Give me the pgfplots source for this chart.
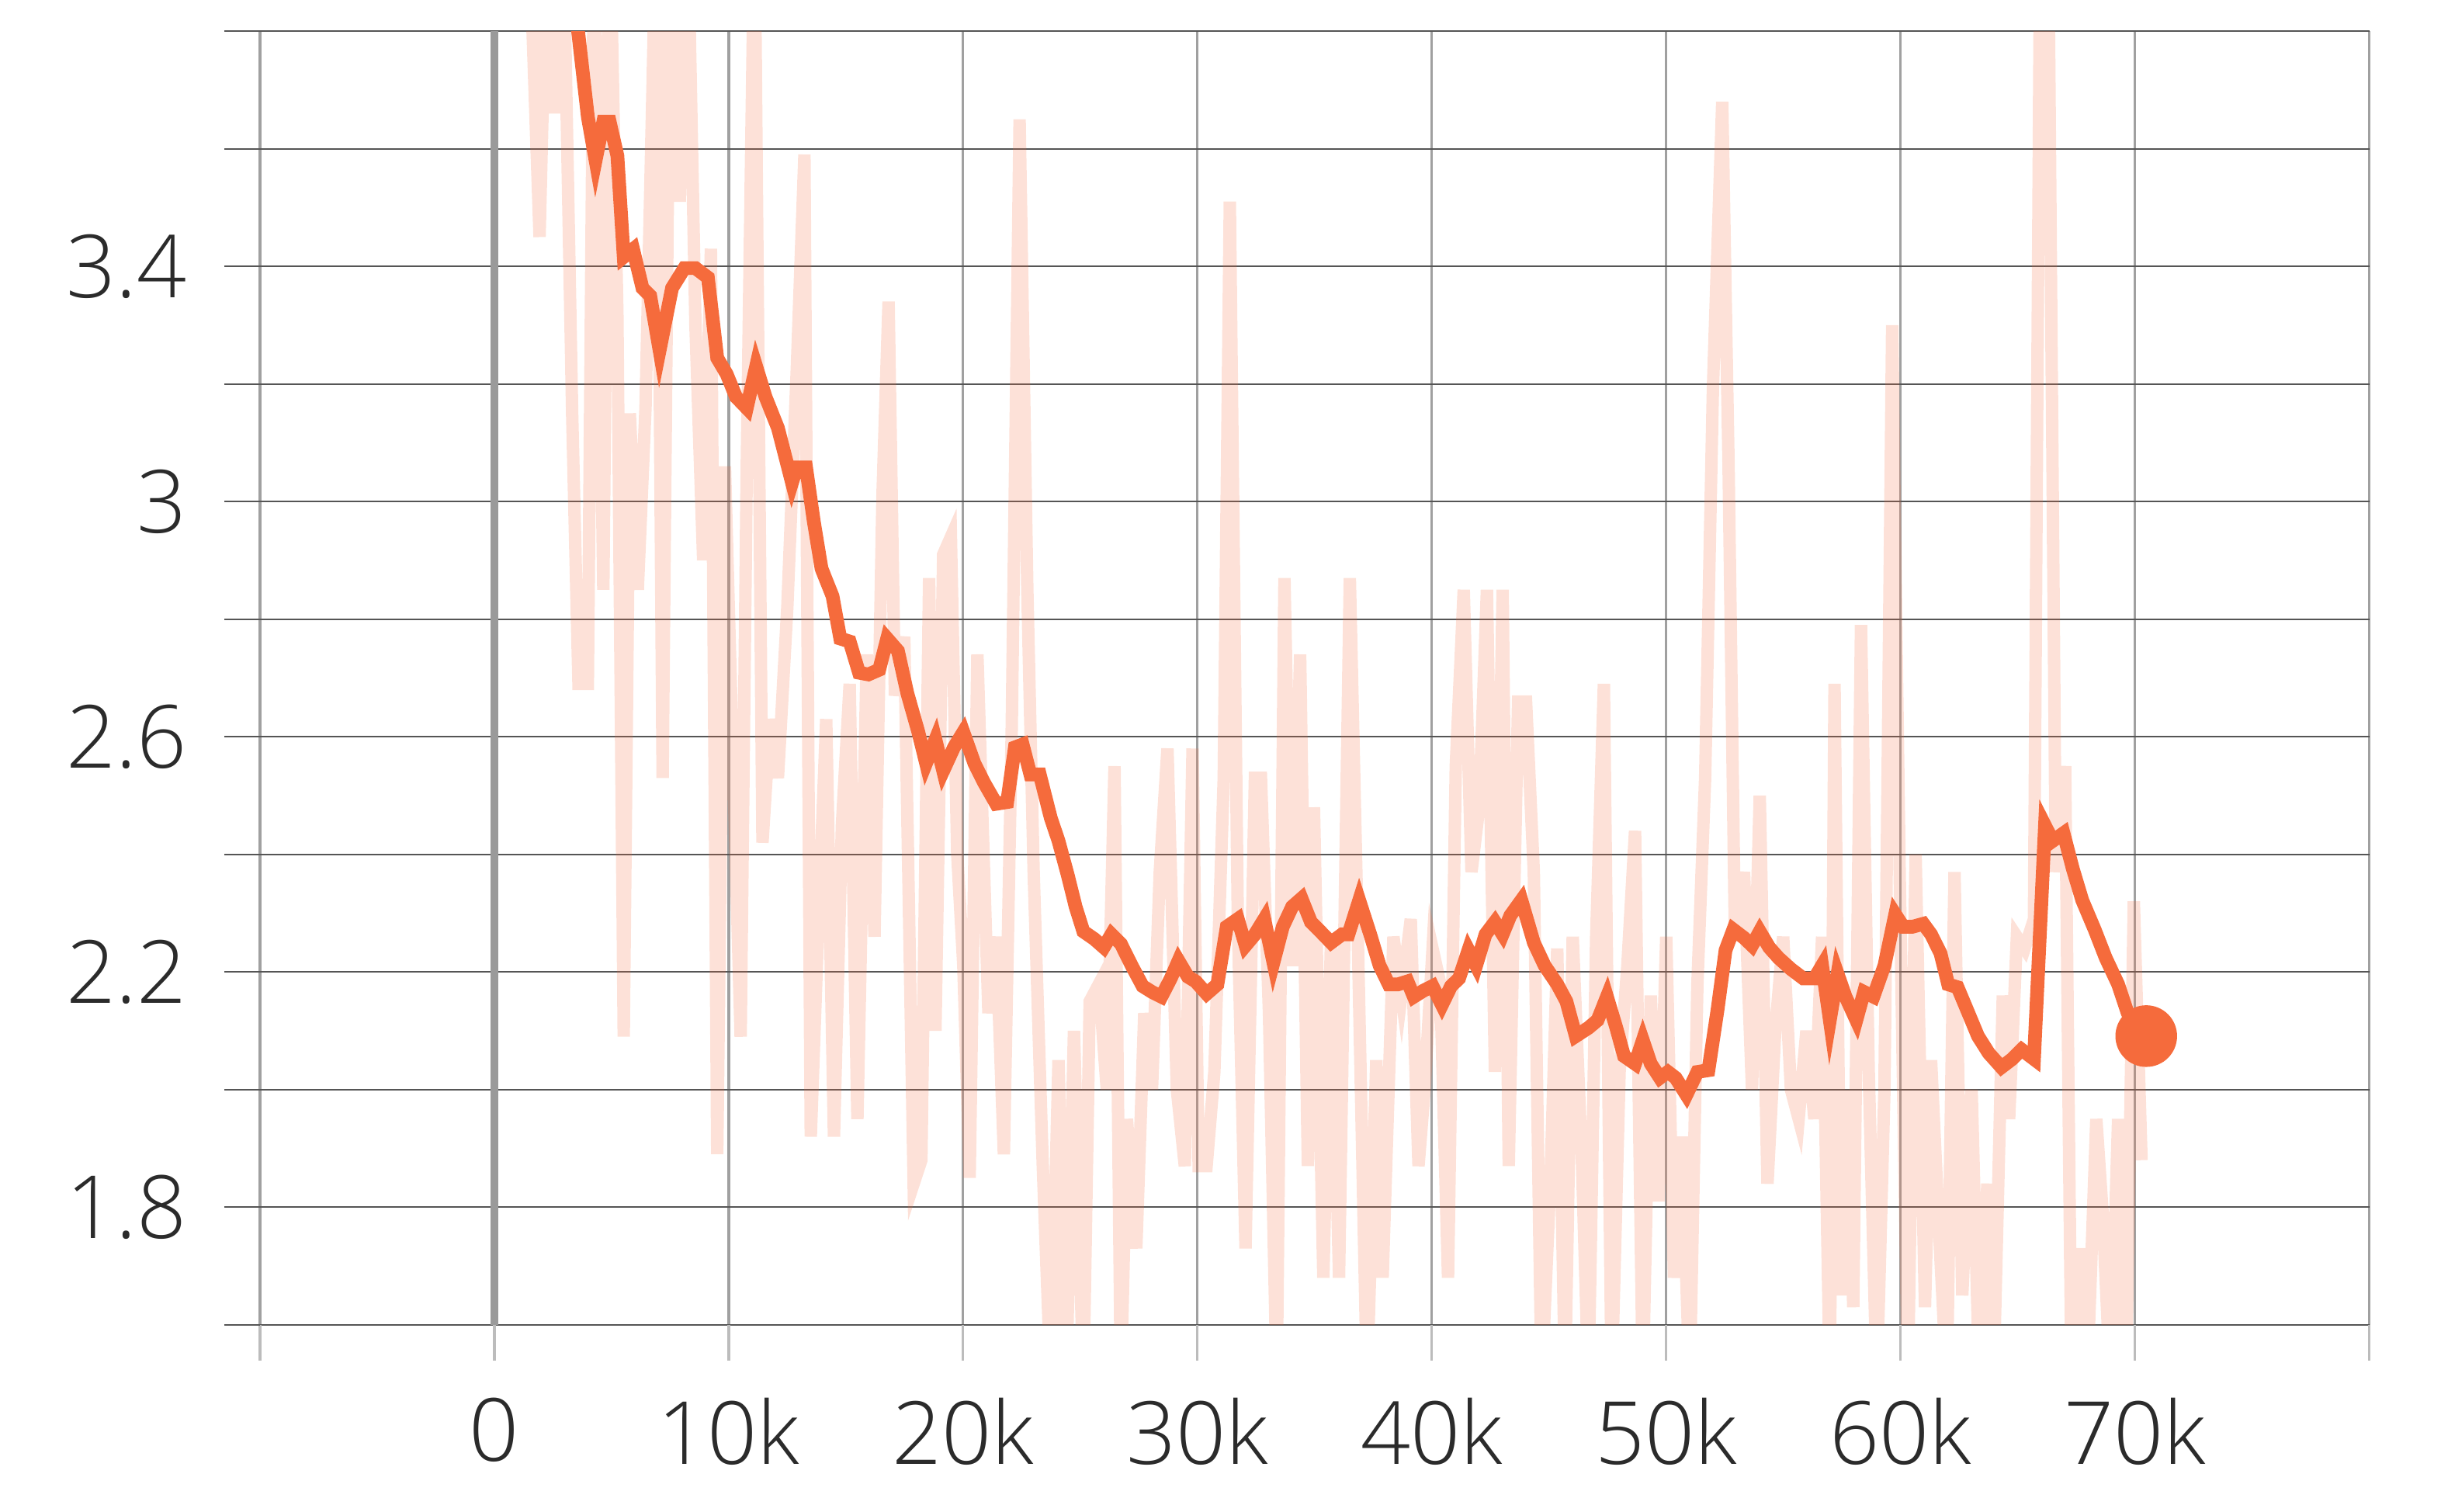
\documentclass[border=0pt]{standalone}
\usepackage{fontspec}
\setmainfont{Open Sans}[UprightFont={* Light}]
\usepackage{pgfplots}
\pgfplotsset{compat=1.18}
\definecolor{smline}{HTML}{F56B3C}
\definecolor{hgrid}{HTML}{555555}
\definecolor{vgrid}{HTML}{A0A0A0}
\definecolor{zero}{HTML}{9A9A9A}
\definecolor{ink}{HTML}{2B2B2B}

% raw loss, step in thousands
\pgfplotstableread{
x y
1.46 4.0
1.93 3.45
2.26 4.0
2.59 3.66
2.93 4.0
3.32 3.15
3.59 2.69
3.99 2.69
4.26 4.0
4.65 2.85
4.92 4.0
5.25 3.32
5.52 2.09
5.78 3.15
6.12 2.85
6.45 3.16
6.91 4.0
7.18 2.53
7.51 4.0
7.91 3.51
8.24 4.0
8.58 3.30
8.91 2.90
9.24 3.43
9.51 1.89
9.84 3.06
10.11 2.66
10.51 2.09
10.77 3.06
11.10 4.0
11.44 2.42
11.77 2.63
12.10 2.53
12.50 2.82
12.90 3.22
13.23 3.59
13.50 1.92
13.83 2.29
14.16 2.63
14.49 1.92
14.83 2.45
15.16 2.69
15.49 1.95
15.89 2.74
16.22 2.26
16.56 3.01
16.82 3.34
17.09 2.67
17.49 2.77
17.89 1.84
18.22 1.88
18.55 2.87
18.82 2.10
19.15 2.91
19.48 2.94
19.75 2.40
20.01 2.21
20.28 1.85
20.61 2.74
21.08 2.13
21.41 2.26
21.74 1.89
22.07 2.60
22.41 3.65
22.74 2.85
23.01 2.37
23.40 1.87
23.74 1.5
24.07 2.05
24.40 1.5
24.73 2.10
25.13 1.5
25.40 2.15
25.80 2.18
26.13 2.00
26.46 2.55
26.73 1.5
26.99 1.95
27.39 1.73
27.73 2.13
28.06 2.00
28.39 2.37
28.72 2.58
29.12 2.00
29.46 1.87
29.79 2.58
30.05 1.87
30.39 1.87
30.72 2.03
31.12 2.53
31.38 3.51
31.72 2.29
32.05 1.73
32.45 2.53
32.71 2.53
33.05 2.13
33.38 1.5
33.71 2.87
34.04 2.21
34.38 2.74
34.71 1.87
34.97 2.48
35.37 1.68
35.70 2.26
36.04 1.68
36.50 2.87
36.84 2.26
37.23 1.5
37.63 2.05
37.90 1.68
38.36 2.26
38.70 2.16
39.10 2.29
39.43 1.87
39.69 2.00
40.03 2.24
40.36 2.18
40.69 1.68
41.02 2.55
41.36 2.85
41.69 2.37
42.02 2.48
42.35 2.85
42.69 2.03
43.02 2.85
43.28 1.87
43.68 2.66
44.02 2.66
44.35 2.37
44.68 1.5
45.08 1.87
45.35 2.24
45.68 1.5
46.01 2.26
46.41 1.87
46.68 1.5
47.01 2.26
47.34 2.69
47.67 1.5
48.01 2.03
48.34 2.21
48.67 2.44
49.00 1.5
49.34 2.16
49.67 1.81
50.00 2.26
50.33 1.68
50.66 1.92
51.00 1.5
51.33 2.18
51.66 2.53
51.99 3.19
52.39 3.68
52.66 3.06
52.93 2.26
53.32 2.37
53.66 2.00
53.99 2.50
54.32 1.84
54.65 2.10
54.99 2.26
55.32 2.00
55.65 1.95
55.98 2.10
56.32 1.95
56.65 2.26
56.98 1.5
57.18 2.69
57.45 1.65
57.71 2.00
57.98 1.63
58.31 2.79
58.64 2.03
58.98 1.5
59.31 2.00
59.64 3.30
59.97 2.34
60.31 1.5
60.64 2.40
61.04 1.63
61.30 2.05
61.64 1.76
61.97 1.5
62.30 2.37
62.63 1.65
63.03 2.00
63.36 1.5
63.70 1.84
63.96 1.5
64.36 2.16
64.63 1.95
64.96 2.26
65.29 2.24
65.69 2.29
65.96 4.0
66.29 4.0
66.62 2.37
67.02 2.55
67.29 1.5
67.69 1.73
67.95 1.5
68.35 1.95
68.62 1.79
68.95 1.5
69.28 1.95
69.61 1.5
69.95 2.32
70.28 1.88
}\rawloss

% smoothed loss
\pgfplotstableread{
x y
3.20 3.93
3.99 3.654
4.32 3.580
4.65 3.646
4.92 3.646
5.25 3.588
5.52 3.416
5.92 3.429
6.32 3.363
6.65 3.350
7.05 3.257
7.58 3.363
8.11 3.397
8.58 3.397
9.11 3.381
9.51 3.244
9.91 3.217
10.31 3.178
10.77 3.159
11.17 3.230
11.57 3.178
12.10 3.125
12.70 3.032
12.90 3.058
13.30 3.058
13.63 2.966
13.96 2.886
14.43 2.839
14.76 2.767
15.16 2.762
15.56 2.709
15.96 2.706
16.42 2.714
16.76 2.767
17.22 2.746
17.62 2.674
18.09 2.608
18.42 2.555
18.82 2.595
19.15 2.542
19.61 2.582
20.01 2.608
20.48 2.555
20.88 2.523
21.41 2.486
21.88 2.489
22.21 2.582
22.54 2.587
22.87 2.536
23.27 2.536
23.74 2.462
24.07 2.423
24.47 2.364
24.80 2.311
25.13 2.269
25.60 2.256
26.00 2.242
26.33 2.264
26.73 2.248
27.19 2.211
27.66 2.176
28.06 2.166
28.46 2.158
28.86 2.189
29.19 2.219
29.59 2.192
29.92 2.184
30.39 2.163
30.85 2.179
31.25 2.277
31.72 2.290
32.05 2.245
32.45 2.264
32.85 2.290
33.24 2.216
33.64 2.277
34.04 2.311
34.44 2.325
34.84 2.285
35.24 2.269
35.70 2.250
36.17 2.264
36.44 2.264
36.90 2.322
37.37 2.264
37.77 2.211
38.16 2.179
38.56 2.179
38.96 2.184
39.23 2.158
39.63 2.168
40.03 2.176
40.43 2.144
40.82 2.176
41.16 2.189
41.56 2.237
41.89 2.211
42.29 2.264
42.69 2.285
43.02 2.264
43.35 2.296
43.82 2.322
44.35 2.250
44.81 2.211
45.35 2.179
45.74 2.150
46.14 2.091
46.68 2.105
47.07 2.118
47.47 2.158
47.87 2.105
48.20 2.057
48.67 2.044
49.00 2.084
49.34 2.044
49.73 2.020
50.07 2.030
50.40 2.020
50.86 1.991
51.33 2.030
51.80 2.033
52.19 2.136
52.53 2.237
52.86 2.272
53.32 2.258
53.66 2.245
53.99 2.269
54.39 2.242
54.79 2.224
55.32 2.205
55.85 2.189
56.32 2.189
56.65 2.211
56.98 2.118
57.31 2.197
57.65 2.158
58.11 2.118
58.44 2.166
58.84 2.158
59.31 2.211
59.77 2.298
60.11 2.277
60.51 2.277
60.97 2.282
61.30 2.264
61.70 2.232
62.03 2.179
62.43 2.174
62.83 2.136
63.30 2.091
63.76 2.062
64.30 2.038
64.76 2.052
65.16 2.068
65.69 2.052
66.16 2.449
66.49 2.423
66.95 2.436
67.35 2.375
67.75 2.322
68.28 2.272
68.75 2.224
69.28 2.179
69.68 2.131
70.01 2.105
70.48 2.091
}\smoothloss

\begin{document}
\begin{tikzpicture}
\path (-41.75pt,-30pt) rectangle (350.25pt,212.75pt);
\begin{axis}[
  at={(0,0)}, anchor=south west,
  scale only axis, width=338.75pt, height=207.75pt,
  xmin=-10, xmax=80, ymin=1.6, ymax=3.8,
  axis line style={draw=none},
  tick pos=left, tick align=outside, major tick length=5.75pt,
  xtick={-10,0,10,20,30,40,50,60,70,80},
  xticklabels={,0,10k,20k,30k,40k,50k,60k,70k,},
  ytick={1.6,1.8,2.0,2.2,2.4,2.6,2.8,3.0,3.2,3.4,3.6,3.8},
  yticklabels={,1.8,,2.2,,2.6,,3,,3.4,,},
  grid=major,
  x grid style={vgrid, line width=0.4pt},
  y grid style={hgrid, line width=0.25pt},
  xtick style={vgrid!70, line width=0.4pt},
  ytick style={hgrid, line width=0.25pt},
  xticklabel style={font=\fontsize{14}{16}\selectfont, color=ink, yshift=-2.5pt},
  yticklabel style={font=\fontsize{14}{16}\selectfont, color=ink, xshift=-2.5pt},
]
\addplot[smline, opacity=0.2, line width=2pt, line join=miter] table {\rawloss};
\addplot[zero, line width=1.3pt] coordinates {(0,1.6) (0,3.8)};
\addplot[smline, line width=2.2pt, line join=miter] table {\smoothloss};
\addplot[only marks, mark=*, mark size=4.75pt, color=smline, clip mode=individual] coordinates {(70.48,2.091)};
\end{axis}
\end{tikzpicture}
\end{document}
